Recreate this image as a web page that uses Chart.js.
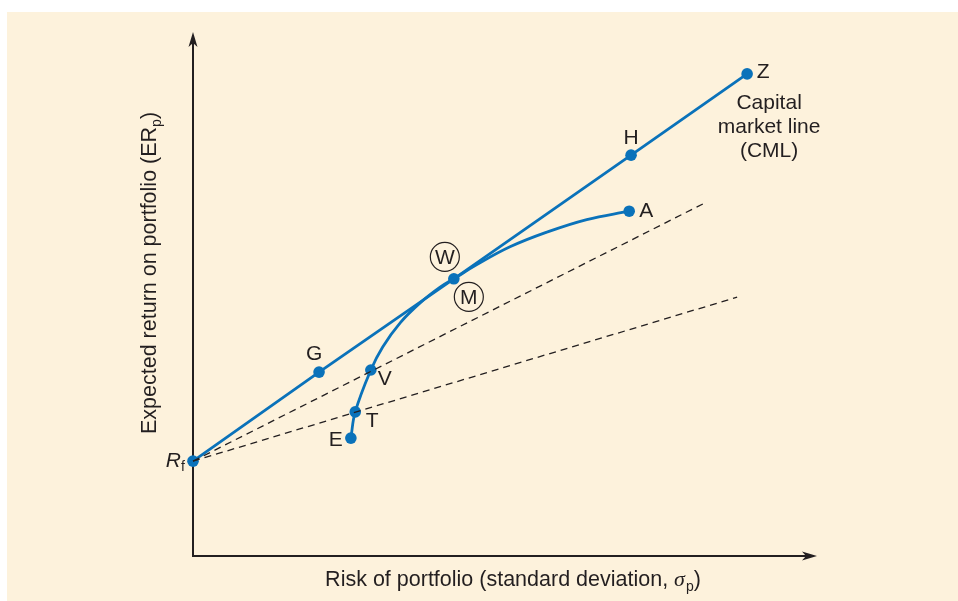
<!DOCTYPE html>
<html>
<head>
<meta charset="utf-8">
<script src="https://cdn.jsdelivr.net/npm/chart.js@4/dist/chart.umd.min.js"></script>
<style>
  html, body { margin: 0; padding: 0; background: #ffffff; }
  #wrap { width: 958px; height: 601px; }
</style>
</head>
<body>
<div id="wrap"><canvas id="cml"></canvas></div>
<script>
// Risk (σp) and expected return (ERp), arbitrary units on 0–100 axes
const cmlRisk   = [0, 20.2, 41.8, 70.2, 88.8];
const cmlReturn = [18.1, 35.1, 52.9, 76.5, 92.0];

// Efficient frontier of risky portfolios, E through A
const frontierRisk   = [25.3, 26.0, 28.5, 30.4, 33.2, 36.4, 39.6, 41.8, 45.5, 50.8, 56.7, 63.1, 69.9];
const frontierReturn = [22.5, 27.5, 35.5, 39.9, 44.5, 48.3, 51.3, 52.9, 55.6, 59.0, 61.8, 64.2, 65.8];

// Named portfolios
const portfolioNames  = ['Rf', 'G', 'H', 'Z', 'E', 'T', 'V', 'M', 'A'];
const portfolioRisk   = [0, 20.2, 70.2, 88.8, 25.3, 26.0, 28.5, 41.8, 69.9];
const portfolioReturn = [18.1, 35.1, 76.5, 92.0, 22.5, 27.5, 35.5, 52.9, 65.8];

// Lines from Rf through T and through V
const rayThroughT = { risk: [0, 87.2], ret: [18.1, 49.4] };
const rayThroughV = { risk: [0, 82.4], ret: [18.1, 67.6] };

const axisTitleX = 'Risk of portfolio (standard deviation, ';
const axisTitleY = 'Expected return on portfolio (ER';
const cmlCaption = ['Capital', 'market line', '(CML)'];

const BLUE = '#0a72ba';
const INK = '#231f20';
const FONT = '"Liberation Sans", Arial, sans-serif';
const MAIN = '21px ' + FONT;
const TITLE = '21.5px ' + FONT;
const SUB = '14px ' + FONT;

const toPts = (xs, ys) => xs.map((x, i) => ({ x: x, y: ys[i] }));

// Where each name sits relative to its dot
const labelOffsets = {
  G: [-5, -18], H: [0, -17], Z: [16, -2], A: [17, 0],
  E: [-15, 2], T: [17, 9], V: [14, 9]
};

const decorPlugin = {
  id: 'decor',
  beforeDraw(chart) {
    const c = chart.ctx;
    c.save();
    c.fillStyle = '#ffffff';
    c.fillRect(0, 0, chart.width, chart.height);
    c.fillStyle = '#fdf2dc';
    c.fillRect(7, 12, chart.width - 7, chart.height - 12);
    c.restore();
  },
  beforeDatasetsDraw(chart) {
    const c = chart.ctx;
    const xs = chart.scales.x, ys = chart.scales.y;
    const x0 = xs.getPixelForValue(0), y0 = ys.getPixelForValue(0);
    const xEnd = xs.getPixelForValue(xs.max), yEnd = ys.getPixelForValue(ys.max);
    c.save();
    c.strokeStyle = INK; c.fillStyle = INK; c.lineWidth = 2;
    c.beginPath();
    c.moveTo(x0, yEnd + 8); c.lineTo(x0, y0); c.lineTo(xEnd - 8, y0);
    c.stroke();
    // arrow heads
    c.beginPath();
    c.moveTo(x0, yEnd); c.lineTo(x0 - 4.5, yEnd + 15); c.lineTo(x0, yEnd + 11); c.lineTo(x0 + 4.5, yEnd + 15);
    c.closePath(); c.fill();
    c.beginPath();
    c.moveTo(xEnd, y0); c.lineTo(xEnd - 15, y0 - 4.5); c.lineTo(xEnd - 11, y0); c.lineTo(xEnd - 15, y0 + 4.5);
    c.closePath(); c.fill();

    // axis titles
    c.textBaseline = 'alphabetic';
    const sigmaFont = 'italic 22px "Liberation Serif", "Times New Roman", serif';
    c.font = TITLE; const w1 = c.measureText(axisTitleX).width;
    c.font = sigmaFont; const ws = c.measureText('σ').width;
    c.font = SUB; const wp = c.measureText('p').width;
    c.font = TITLE; const wc = c.measureText(')').width;
    const total = w1 + ws + wp + wc + 1;
    let sx = 513 - total / 2;
    const by = 586;
    c.textAlign = 'left';
    c.font = TITLE; c.fillText(axisTitleX, sx, by); sx += w1;
    c.font = sigmaFont; c.fillText('σ', sx, by); sx += ws;
    c.font = SUB; c.fillText('p', sx + 1, by + 5); sx += wp + 1;
    c.font = TITLE; c.fillText(')', sx, by);

    c.translate(156, 273);
    c.rotate(-Math.PI / 2);
    c.font = TITLE; const wy = c.measureText(axisTitleY).width;
    c.font = SUB; const wyp = c.measureText('p').width;
    c.font = TITLE; const wyc = c.measureText(')').width;
    let ty = -(wy + wyp + wyc) / 2;
    c.fillText(axisTitleY, ty, 0); ty += wy;
    c.font = SUB; c.fillText('p', ty, 5); ty += wyp;
    c.font = TITLE; c.fillText(')', ty, 0);
    c.restore();
  },
  afterDatasetsDraw(chart) {
    const c = chart.ctx;
    const xs = chart.scales.x, ys = chart.scales.y;
    c.save();
    c.fillStyle = INK;
    c.font = MAIN;
    c.textAlign = 'center';
    c.textBaseline = 'middle';
    portfolioNames.forEach((n, i) => {
      const px = xs.getPixelForValue(portfolioRisk[i]);
      const py = ys.getPixelForValue(portfolioReturn[i]);
      if (n === 'Rf') {
        c.font = 'italic ' + MAIN;
        c.textAlign = 'right';
        c.fillText('R', px - 12, py);
        c.font = SUB;
        c.textAlign = 'left';
        c.fillText('f', px - 12, py + 6);
        c.font = MAIN;
        c.textAlign = 'center';
      } else if (n === 'M') {
        // circled W above and circled M below the tangency point
        c.lineWidth = 1.2; c.strokeStyle = INK;
        [['W', px - 9, py - 22], ['M', px + 15, py + 18]].forEach(([t, cx, cy]) => {
          c.beginPath(); c.arc(cx, cy, 14.5, 0, Math.PI * 2); c.stroke();
          c.fillText(t, cx, cy + 1);
        });
      } else {
        const o = labelOffsets[n];
        c.fillText(n, px + o[0], py + o[1]);
      }
    });
    const zx = xs.getPixelForValue(portfolioRisk[3]);
    const zy = ys.getPixelForValue(portfolioReturn[3]);
    cmlCaption.forEach((t, k) => c.fillText(t, zx + 22, zy + 29 + k * 24));
    c.restore();
  }
};

new Chart(document.getElementById('cml'), {
  type: 'scatter',
  data: {
    datasets: [
      { type: 'line', data: toPts(rayThroughT.risk, rayThroughT.ret), borderColor: INK, borderWidth: 1.3,
        borderDash: [7, 5], pointRadius: 0, fill: false, clip: false },
      { type: 'line', data: toPts(rayThroughV.risk, rayThroughV.ret), borderColor: INK, borderWidth: 1.3,
        borderDash: [7, 5], pointRadius: 0, fill: false, clip: false },
      { type: 'line', data: toPts(frontierRisk, frontierReturn), borderColor: BLUE, borderWidth: 2.8,
        pointRadius: 0, tension: 0.4, fill: false, clip: false },
      { type: 'line', data: toPts(cmlRisk, cmlReturn), borderColor: BLUE, borderWidth: 2.8,
        pointRadius: 0, tension: 0, fill: false, clip: false },
      { data: toPts(portfolioRisk, portfolioReturn), backgroundColor: BLUE, borderColor: BLUE,
        pointRadius: 5.8, borderWidth: 0, clip: false }
    ]
  },
  options: {
    responsive: true,
    maintainAspectRatio: false,
    animation: false,
    events: [],
    layout: { padding: { left: 193, top: 32, right: 141, bottom: 45 } },
    scales: {
      x: { type: 'linear', min: 0, max: 100, display: false },
      y: { type: 'linear', min: 0, max: 100, display: false }
    },
    plugins: { legend: { display: false }, tooltip: { enabled: false } }
  },
  plugins: [decorPlugin]
});
</script>
</body>
</html>
